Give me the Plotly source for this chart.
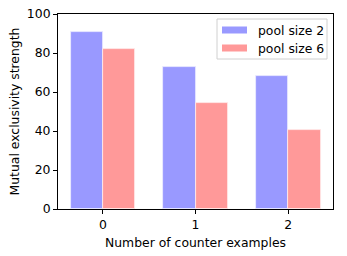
import plotly.graph_objects as go

categories = [0, 1, 2]
pool2 = [90.9, 72.7, 68.2]
pool6 = [81.9, 54.4, 40.7]
series_names = ["pool size 2", "pool size 6"]
y_ticks = [0, 20, 40, 60, 80, 100]

W, H = 347, 256
L, R, T, B = 58, 333, 14, 209
FONT = "DejaVu Sans"
FS = 12.4

def px(x):
    return (x - L) / (R - L)

def py(y):
    return (B - y) / (B - T)

bw = 0.35
fig = go.Figure()
fig.add_trace(go.Bar(x=[c - bw / 2 for c in categories], y=pool2, width=bw,
                     name=series_names[0], marker=dict(color="#9999ff", line=dict(color="#ececff", width=0.8))))
fig.add_trace(go.Bar(x=[c + bw / 2 for c in categories], y=pool6, width=bw,
                     name=series_names[1], marker=dict(color="#ff9999", line=dict(color="#ffecec", width=0.8))))

shapes = []
annotations = []
shapes.append(dict(type="rect", xref="paper", yref="paper", x0=px(217), x1=px(327), y0=py(59), y1=py(19),
                   fillcolor="white", line=dict(color="#cccccc", width=1), opacity=0.9))
for i, (name, col) in enumerate(zip(series_names, ["#9999ff", "#ff9999"])):
    cy = 30 + i * 18
    shapes.append(dict(type="rect", xref="paper", yref="paper", x0=px(222), x1=px(247), y0=py(cy + 3.5), y1=py(cy - 3.5),
                       fillcolor=col, line=dict(width=0)))
    annotations.append(dict(xref="paper", yref="paper", x=px(256), y=py(cy), text=name, showarrow=False,
                            xanchor="left", yanchor="middle", font=dict(family=FONT, size=FS, color="black")))

fig.update_layout(
    width=W, height=H,
    margin=dict(l=L, r=W - R, t=T, b=H - B, pad=0, autoexpand=False),
    plot_bgcolor="white", paper_bgcolor="white", showlegend=False, bargap=0,
    font=dict(family=FONT, size=FS, color="black"),
    shapes=shapes, annotations=annotations,
    xaxis=dict(range=[-0.485, 2.485], tickvals=categories, ticktext=[str(c) for c in categories],
               automargin=False, ticklabeloverflow="allow",
               showgrid=False, zeroline=False, showline=True, linecolor="black", linewidth=1, mirror=True,
               ticks="outside", ticklen=4, tickcolor="black",
               title=dict(text="Number of counter examples", font=dict(family=FONT, size=FS), standoff=7)),
    yaxis=dict(range=[0, 100], tickvals=y_ticks, showgrid=False, zeroline=False, showline=True,
               automargin=False, ticklabeloverflow="allow",
               linecolor="black", linewidth=1, mirror=True, ticks="outside", ticklen=4, tickcolor="black",
               title=dict(text="Mutual exclusivity strength", font=dict(family=FONT, size=FS), standoff=4)),
)
fig.write_html("out.html", config={"displayModeBar": False},
               post_script="document.body.style.margin='0';document.body.style.overflow='hidden';")
